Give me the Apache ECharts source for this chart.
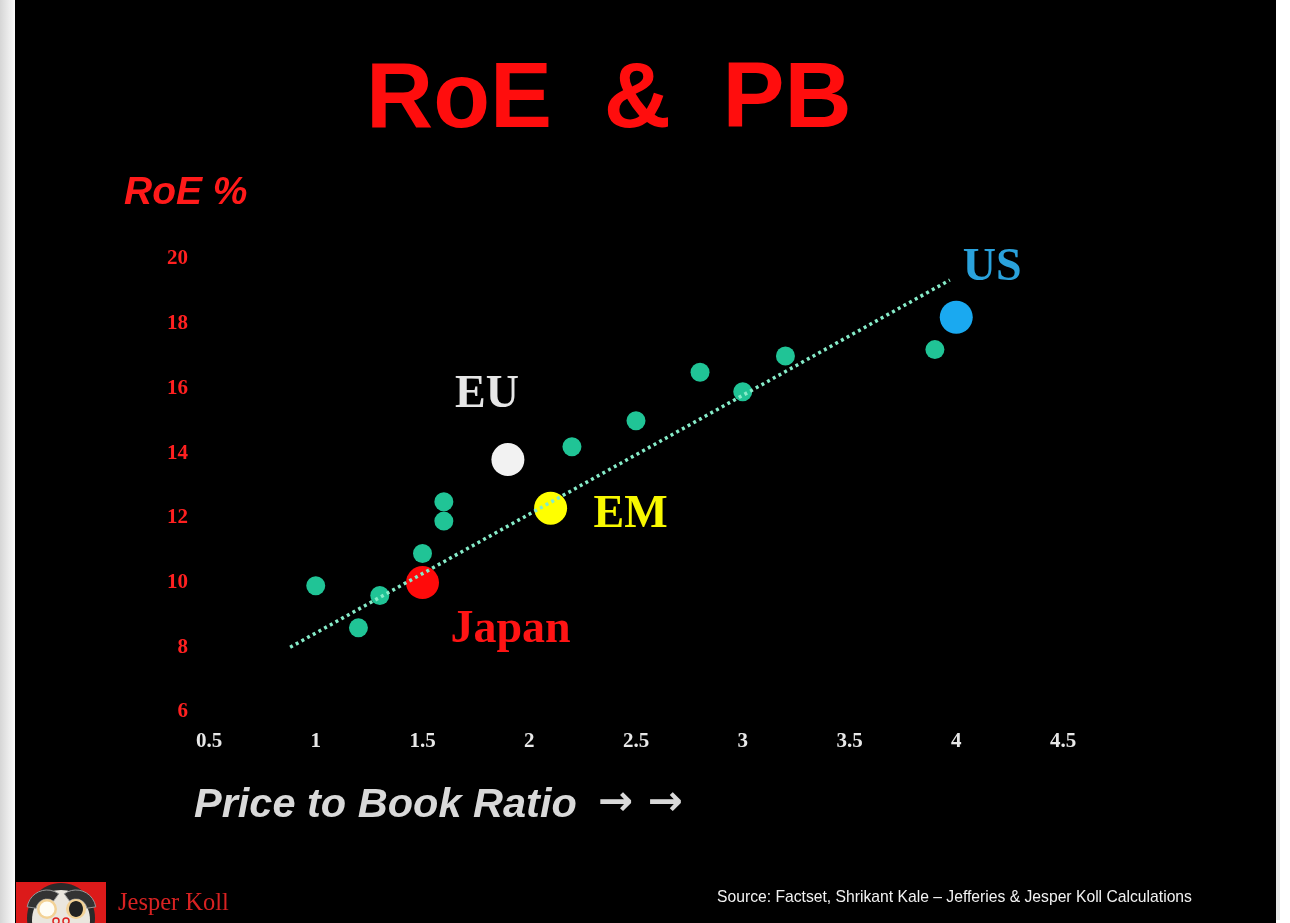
<!DOCTYPE html>
<html><head><meta charset="utf-8">
<script src="https://cdn.jsdelivr.net/npm/echarts@6/dist/echarts.min.js"></script>
<style>html,body{margin:0;padding:0;background:#fff;overflow:hidden;} #c{width:1290px;height:923px;}</style>
</head><body><div id="c"></div>
<script>
// ---- data ----
const otherPB  = [1.0, 1.2, 1.3, 1.5, 1.6, 1.6, 2.2, 2.5, 2.8, 3.0, 3.2, 3.9];
const otherRoE = [9.9, 8.6, 9.6, 10.9, 11.9, 12.5, 14.2, 15.0, 16.5, 15.9, 17.0, 17.2];
const regionNames = ['Japan', 'EU', 'EM', 'US'];
const regionPB  = [1.5, 1.9, 2.1, 4.0];
const regionRoE = [10.0, 13.8, 12.3, 18.2];
const trendPB  = [0.88, 3.97];
const trendRoE = [8.0, 19.35];
const xMin = 0.5, xMax = 4.5, xStep = 0.5;
const yMin = 6, yMax = 20, yStep = 2;

// ---- styling (not data) ----
const regionStyle = {
  Japan: {color: '#ff0a0a', text: '#ff1414', offset: [88, 48]},
  EU:    {color: '#f2f2f2', text: '#e6e6e6', offset: [-21, -65]},
  EM:    {color: '#ffff00', text: '#f8f800', offset: [80, 7]},
  US:    {color: '#1aa9f0', text: '#2aa2dc', offset: [36, -49]}
};

const chart = echarts.init(document.getElementById('c'), null, {renderer: 'canvas'});
const serif = "'Liberation Serif','Times New Roman',serif";
const sans = "'Liberation Sans',Arial,sans-serif";

const regionData = regionNames.map((n, i) => ({
  name: n,
  value: [regionPB[i], regionRoE[i]],
  itemStyle: {color: regionStyle[n].color, opacity: 1},
  label: {color: regionStyle[n].text, offset: regionStyle[n].offset}
}));

chart.setOption({
  backgroundColor: '#ffffff',
  animation: false,
  grid: {left: 209, right: 227, top: 259, bottom: 211, containLabel: false, outerBoundsMode: 'none'},
  xAxis: {
    type: 'value', min: xMin, max: xMax, interval: xStep,
    axisLine: {show: false}, axisTick: {show: false}, splitLine: {show: false},
    axisLabel: {color: '#e8e8e8', fontFamily: serif, fontWeight: 'bold', fontSize: 21, margin: 19}
  },
  yAxis: {
    type: 'value', min: yMin, max: yMax, interval: yStep,
    axisLine: {show: false}, axisTick: {show: false}, splitLine: {show: false},
    axisLabel: {color: '#ff2020', fontFamily: serif, fontWeight: 'bold', fontSize: 21, margin: 21}
  },
  graphic: [
    {type: 'rect', z: -10, shape: {x: 0, y: 0, width: 15, height: 923},
     style: {fill: new echarts.graphic.LinearGradient(0, 0, 1, 0, [{offset: 0, color: '#d6d6d6'}, {offset: 1, color: '#fbfbfb'}])}},
    {type: 'rect', z: -10, shape: {x: 15, y: 0, width: 1261, height: 923}, style: {fill: '#000000'}},
    {type: 'rect', z: -10, shape: {x: 1276, y: 120, width: 4, height: 800}, style: {fill: '#e6e6e6'}},
    {type: 'text', left: 366, top: 55, style: {text: 'RoE  &  PB', fill: '#ff0d0d', font: "bold 93px " + sans}},
    {type: 'text', left: 124, top: 174, style: {text: 'RoE %', fill: '#ff1a1a', font: "italic bold 39px " + sans}},
    {type: 'text', left: 194, top: 785, style: {text: 'Price to Book Ratio', fill: '#d9d9d9', font: "italic bold 41.5px " + sans}},
    {type: 'text', x: 598, y: 804,
     style: {text: '→ →', fill: '#d9d9d9', font: "bold 42px 'DejaVu Sans'", verticalAlign: 'middle', align: 'left'}},
    {type: 'text', left: 717, top: 890, style: {text: 'Source: Factset, Shrikant Kale – Jefferies & Jesper Koll Calculations', fill: '#f2f2f2', font: "15.7px " + sans}},
    {type: 'text', left: 118, top: 891, style: {text: 'Jesper Koll', fill: '#d82222', font: "24.5px " + serif}},
    // Daruma logo
    {type: 'group', children: [
      {type: 'rect', shape: {x: 16, y: 882, width: 90, height: 41}, style: {fill: '#dc1a1a'}},
      {type: 'ellipse', shape: {cx: 61, cy: 918, rx: 34, ry: 35}, style: {fill: '#2a2a2a'}},
      {type: 'ellipse', shape: {cx: 61, cy: 920, rx: 29, ry: 30}, style: {fill: '#eae6de'}},
      {type: 'sector', shape: {cx: 47, cy: 910, r: 20, r0: 11, startAngle: Math.PI * 1.05, endAngle: Math.PI * 1.7}, style: {fill: '#333', stroke: '#999', lineWidth: 1}},
      {type: 'sector', shape: {cx: 76, cy: 910, r: 20, r0: 11, startAngle: Math.PI * 1.3, endAngle: Math.PI * 1.95}, style: {fill: '#333', stroke: '#999', lineWidth: 1}},
      {type: 'circle', shape: {cx: 47, cy: 909, r: 10}, style: {fill: '#f3d296'}},
      {type: 'circle', shape: {cx: 47, cy: 909, r: 7.5}, style: {fill: '#fffdf5'}},
      {type: 'circle', shape: {cx: 76, cy: 909, r: 10}, style: {fill: '#f3d296'}},
      {type: 'ellipse', shape: {cx: 76, cy: 909, rx: 7, ry: 8}, style: {fill: '#222'}},
      {type: 'circle', shape: {cx: 56, cy: 921, r: 3}, style: {fill: 'none', stroke: '#e02020', lineWidth: 1.5}},
      {type: 'circle', shape: {cx: 66, cy: 921, r: 3}, style: {fill: 'none', stroke: '#e02020', lineWidth: 1.5}}
    ]}
  ],
  series: [
    {
      type: 'scatter', name: 'Others', symbol: 'circle', symbolSize: 19, z: 2,
      itemStyle: {color: '#20c496', opacity: 1},
      data: otherPB.map((x, i) => [x, otherRoE[i]])
    },
    {
      type: 'scatter', name: 'Regions', symbol: 'circle', symbolSize: 33, z: 3,
      itemStyle: {opacity: 1},
      label: {show: true, position: 'inside', formatter: '{b}', fontFamily: serif, fontWeight: 'bold', fontSize: 46, opacity: 1, textBorderWidth: 0},
      data: regionData
    },
    {
      type: 'line', name: 'Trend', z: 5, symbol: 'none', silent: true,
      lineStyle: {color: '#86ecc9', width: 3.5, type: [3, 3.5], cap: 'butt', opacity: 1},
      data: trendPB.map((x, i) => [x, trendRoE[i]])
    }
  ]
});
</script></body></html>
